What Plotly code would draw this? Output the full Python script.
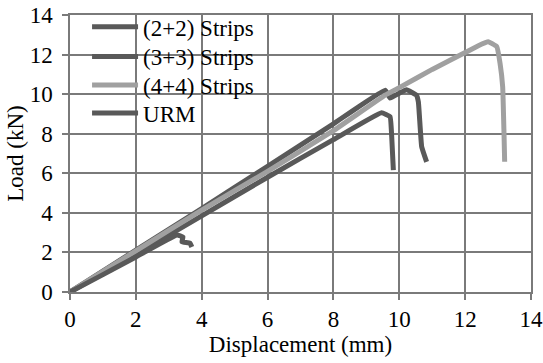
import plotly.graph_objects as go

# (2+2) Strips
x22 = [0, 2, 4, 6, 8, 9.46, 9.72, 9.77, 9.82]
y22 = [0, 1.9, 3.85, 5.8, 7.7, 9.06, 8.86, 7.85, 6.16]
# (3+3) Strips
x33 = [0, 2, 4, 6, 8, 9.57, 9.72, 10.0, 10.22, 10.52, 10.58, 10.68, 10.83]
y33 = [0, 2.12, 4.22, 6.35, 8.5, 10.2, 9.8, 10.05, 10.22, 9.95, 9.6, 7.34, 6.58]
# (4+4) Strips
x44 = [0, 2, 4, 6, 8, 9.57, 10, 11, 12, 12.4, 12.7, 12.96, 13.06, 13.14, 13.18, 13.2]
y44 = [0, 2.08, 4.14, 6.1, 8.15, 9.95, 10.33, 11.25, 12.1, 12.45, 12.65, 12.4, 11.56, 10.37, 8.03, 6.58]
# URM
xurm = [0, 1, 2, 3.25, 3.43, 3.4, 3.64, 3.7]
yurm = [0, 0.88, 1.77, 2.88, 2.78, 2.53, 2.47, 2.27]

names = ["(2+2) Strips", "(3+3) Strips", "(4+4) Strips", "URM"]
colors = ["#595959", "#595959", "#a0a0a0", "#595959"]
legend_ids = ["legend", "legend2", "legend3", "legend4"]
legend_y = [0.957, 0.850, 0.747, 0.646]

fam = "Liberation Serif"
font = dict(family=fam, size=23, color="#000000")
lfont = dict(family=fam, size=23, color="#000000")
gridc = "#7a7a7a"

fig = go.Figure()
for nm, xs, ys, c, lg in zip(names, [x22, x33, x44, xurm], [y22, y33, y44, yurm], colors, legend_ids):
    fig.add_trace(go.Scatter(x=xs, y=ys, name=nm, mode="lines", legend=lg,
                             line=dict(color=c, width=5, shape="spline", smoothing=0.3)))

legends = {}
for lg, ly in zip(legend_ids, legend_y):
    legends[lg] = dict(x=0.037, y=ly, xanchor="left", yanchor="middle",
                       bgcolor="rgba(0,0,0,0)", font=lfont, itemwidth=46)

fig.update_layout(
    width=543, height=363,
    margin=dict(l=70, r=12, t=15, b=71, autoexpand=False),
    paper_bgcolor="white", plot_bgcolor="white",
    font=font,
    showlegend=True,
    **legends,
    xaxis=dict(range=[0, 14], dtick=2, tick0=0, showgrid=True, gridcolor=gridc, gridwidth=1.5,
               showline=True, linecolor=gridc, linewidth=1.5, mirror=True,
               ticks="outside", ticklen=6, tickcolor=gridc, tickwidth=1.5,
               zeroline=False, tickfont=font,
               title=dict(text="Displacement (mm)", font=font, standoff=2)),
    yaxis=dict(range=[0, 14], dtick=2, tick0=0, showgrid=True, gridcolor=gridc, gridwidth=1.5,
               showline=True, linecolor=gridc, linewidth=1.5, mirror=True,
               ticks="outside", ticklen=6, tickcolor=gridc, tickwidth=1.5,
               zeroline=False, tickfont=font, ticklabelstandoff=5,
               title=dict(text="Load (kN)", font=font, standoff=0)),
)
fig.write_html("out.html")
